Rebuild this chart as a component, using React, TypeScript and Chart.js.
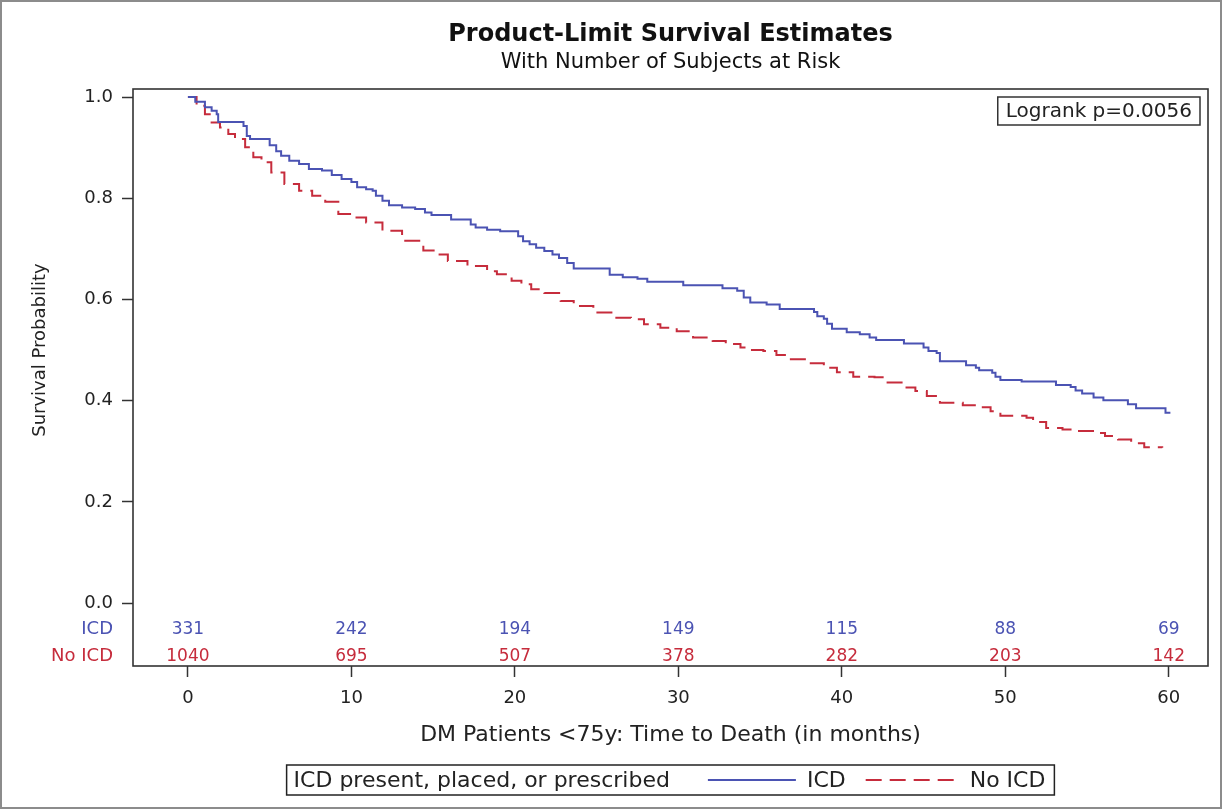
import React, { useEffect, useRef } from 'react';
import { Chart, registerables } from 'chart.js';

Chart.register(...registerables);

const FONT = "'DejaVu Sans', sans-serif";

const chartTitle = 'Product-Limit Survival Estimates';
const chartSubtitle = 'With Number of Subjects at Risk';
const xTitle = 'DM Patients <75y: Time to Death (in months)';
const yTitle = 'Survival Probability';
const logrankText = 'Logrank p=0.0056';
const legendTitle = 'ICD present, placed, or prescribed';
const seriesLabels = ['ICD', 'No ICD'];
const seriesColors = ['#4b53b3', '#c62c3c'];

const xTicks = [0, 10, 20, 30, 40, 50, 60];
const yTicks = [0, 0.2, 0.4, 0.6, 0.8, 1.0];

const icdTime = [0, 0.45, 1.04, 1.45, 1.76, 1.85, 3.4, 3.6, 3.8, 5.0, 5.4, 5.7, 6.2, 6.8, 7.4, 8.2, 8.8, 9.4, 10.0, 10.35, 10.9, 11.3, 11.5, 11.9, 12.3, 13.1, 13.9, 14.5, 14.9, 16.1, 17.3, 17.6, 18.3, 19.1, 20.2, 20.5, 20.9, 21.3, 21.8, 22.3, 22.7, 23.2, 23.6, 25.8, 26.6, 27.5, 28.1, 30.3, 32.7, 33.6, 34.0, 34.4, 35.4, 36.2, 38.3, 38.5, 38.9, 39.1, 39.4, 40.3, 41.1, 41.7, 42.1, 43.8, 45.0, 45.3, 45.8, 46.0, 47.6, 48.2, 48.4, 49.2, 49.4, 49.7, 51.0, 53.1, 54.0, 54.3, 54.7, 55.4, 56.0, 57.5, 58.0, 59.8, 60.1];
const icdSurv = [1.0, 0.991, 0.98, 0.973, 0.966, 0.951, 0.943, 0.923, 0.917, 0.905, 0.893, 0.884, 0.874, 0.868, 0.858, 0.855, 0.846, 0.838, 0.832, 0.822, 0.818, 0.815, 0.805, 0.795, 0.786, 0.782, 0.779, 0.772, 0.767, 0.758, 0.748, 0.742, 0.738, 0.735, 0.725, 0.715, 0.709, 0.702, 0.696, 0.689, 0.682, 0.672, 0.661, 0.649, 0.644, 0.641, 0.635, 0.628, 0.622, 0.617, 0.604, 0.594, 0.59, 0.581, 0.575, 0.567, 0.562, 0.552, 0.542, 0.535, 0.531, 0.525, 0.52, 0.513, 0.505, 0.498, 0.494, 0.478, 0.47, 0.465, 0.46, 0.455, 0.447, 0.441, 0.438, 0.431, 0.427, 0.42, 0.414, 0.406, 0.401, 0.393, 0.385, 0.376, 0.376];

const noIcdTime = [0, 0.53, 1.04, 1.45, 1.96, 2.47, 2.88, 3.5, 4.0, 4.5, 5.1, 5.9, 6.8, 7.6, 8.4, 9.2, 10.0, 10.9, 11.9, 13.1, 14.4, 15.1, 15.9, 17.1, 18.3, 18.9, 19.8, 20.4, 21.0, 21.8, 22.8, 23.6, 24.8, 26.1, 27.1, 27.9, 28.9, 29.9, 30.9, 32.1, 32.9, 33.8, 34.4, 35.2, 36.0, 36.8, 38.1, 38.9, 39.7, 40.7, 42.0, 42.8, 43.8, 44.5, 45.2, 46.0, 47.4, 48.2, 49.1, 49.7, 51.3, 51.7, 52.5, 53.5, 54.1, 55.5, 56.1, 56.9, 57.7, 58.5, 59.6];
const noIcdSurv = [1.0, 0.983, 0.966, 0.95, 0.94, 0.927, 0.917, 0.901, 0.881, 0.871, 0.851, 0.828, 0.815, 0.805, 0.793, 0.769, 0.762, 0.752, 0.736, 0.716, 0.697, 0.689, 0.676, 0.666, 0.656, 0.65, 0.637, 0.63, 0.62, 0.613, 0.597, 0.587, 0.574, 0.564, 0.561, 0.551, 0.544, 0.537, 0.525, 0.518, 0.512, 0.505, 0.5, 0.498, 0.49, 0.482, 0.474, 0.465, 0.456, 0.447, 0.446, 0.436, 0.426, 0.419, 0.409, 0.396, 0.391, 0.387, 0.379, 0.37, 0.366, 0.358, 0.346, 0.343, 0.34, 0.336, 0.33, 0.323, 0.316, 0.308, 0.307];

const riskTimes = [0, 10, 20, 30, 40, 50, 60];
const icdAtRisk = [331, 242, 194, 149, 115, 88, 69];
const noIcdAtRisk = [1040, 695, 507, 378, 282, 203, 142];

const decor = {
  id: 'decor',
  beforeDraw(chart: any) {
    const ctx = chart.ctx;
    ctx.save();
    ctx.fillStyle = '#ffffff';
    ctx.fillRect(0, 0, chart.width, chart.height);
    ctx.restore();
  },
  afterDraw(chart: any) {
    const { ctx, chartArea: ca, scales } = chart;
    const xs = scales.x;
    const ys = scales.y;
    const cx = (ca.left + ca.right) / 2;
    ctx.save();

    // outer border
    ctx.strokeStyle = '#8c8c8c';
    ctx.lineWidth = 2;
    ctx.strokeRect(1, 1, 1220, 807);

    // plot frame
    ctx.strokeStyle = '#333333';
    ctx.lineWidth = 1.6;
    ctx.strokeRect(ca.left, ca.top, ca.right - ca.left, ca.bottom - ca.top);

    // titles
    ctx.fillStyle = '#111111';
    ctx.textAlign = 'center';
    ctx.textBaseline = 'middle';
    ctx.font = `bold 24px ${FONT}`;
    ctx.fillText(chartTitle, cx, 35);
    ctx.font = `21px ${FONT}`;
    ctx.fillText(chartSubtitle, cx, 63);

    // y title
    ctx.save();
    ctx.translate(40, (ys.getPixelForValue(0) + ys.getPixelForValue(1)) / 2);
    ctx.rotate(-Math.PI / 2);
    ctx.font = `18px ${FONT}`;
    ctx.fillStyle = '#222222';
    ctx.fillText(yTitle, 0, 0);
    ctx.restore();

    // logrank box
    ctx.font = `20px ${FONT}`;
    const lw = ctx.measureText(logrankText).width;
    const bRight = ca.right - 8;
    const bLeft = bRight - lw - 16;
    ctx.fillStyle = '#ffffff';
    ctx.fillRect(bLeft, 97, bRight - bLeft, 28);
    ctx.strokeStyle = '#333333';
    ctx.lineWidth = 1.5;
    ctx.strokeRect(bLeft, 97, bRight - bLeft, 28);
    ctx.fillStyle = '#222222';
    ctx.textAlign = 'left';
    ctx.fillText(logrankText, bLeft + 8, 111.5);

    // risk table
    const rowY = [ys.getPixelForValue(-0.053), ys.getPixelForValue(-0.105)];
    const rows = [icdAtRisk, noIcdAtRisk];
    rows.forEach((vals, r) => {
      ctx.fillStyle = seriesColors[r];
      ctx.font = `18px ${FONT}`;
      ctx.textAlign = 'right';
      ctx.fillText(seriesLabels[r], 113, rowY[r]);
      ctx.font = `17px ${FONT}`;
      ctx.textAlign = 'center';
      vals.forEach((v, i) => {
        ctx.fillText(String(v), xs.getPixelForValue(riskTimes[i]), rowY[r]);
      });
    });

    // legend
    ctx.font = `22px ${FONT}`;
    ctx.textAlign = 'left';
    const tW = ctx.measureText(legendTitle).width;
    const w1 = ctx.measureText(seriesLabels[0]).width;
    const w2 = ctx.measureText(seriesLabels[1]).width;
    const lineLen = 88;
    const total = 7 + tW + 38 + lineLen + 11 + w1 + 20 + lineLen + 16 + w2 + 9;
    const lx = cx - total / 2;
    const ly = 765;
    const lh = 30;
    ctx.strokeStyle = '#222222';
    ctx.lineWidth = 1.5;
    ctx.strokeRect(lx, ly, total, lh);
    const my = ly + lh / 2;
    let x = lx + 7;
    ctx.fillStyle = '#222222';
    ctx.fillText(legendTitle, x, my + 1);
    x += tW + 38;
    const dsets = chart.data.datasets;
    const drawSample = (ds: any, x0: number) => {
      ctx.save();
      ctx.strokeStyle = ds.borderColor;
      ctx.lineWidth = ds.borderWidth;
      ctx.setLineDash(ds.borderDash || []);
      ctx.beginPath();
      ctx.moveTo(x0, my);
      ctx.lineTo(x0 + lineLen, my);
      ctx.stroke();
      ctx.restore();
    };
    drawSample(dsets[0], x);
    x += lineLen + 11;
    ctx.fillStyle = '#222222';
    ctx.fillText(seriesLabels[0], x, my + 1);
    x += w1 + 20;
    drawSample(dsets[1], x);
    x += lineLen + 16;
    ctx.fillStyle = '#222222';
    ctx.fillText(seriesLabels[1], x, my + 1);

    ctx.restore();
  },
};

export default function App() {
  const ref = useRef<HTMLCanvasElement | null>(null);

  useEffect(() => {
    if (!ref.current) return;
    const chart = new Chart(ref.current, {
      type: 'line',
      data: {
        datasets: [
          {
            label: seriesLabels[0],
            data: icdTime.map((t, i) => ({ x: t, y: icdSurv[i] })),
            borderColor: seriesColors[0],
            borderWidth: 2,
            pointRadius: 0,
            stepped: 'before',
            fill: false,
          },
          {
            label: seriesLabels[1],
            data: noIcdTime.map((t, i) => ({ x: t, y: noIcdSurv[i] })),
            borderColor: seriesColors[1],
            borderWidth: 2,
            borderDash: [16, 8],
            pointRadius: 0,
            stepped: 'before',
            fill: false,
          },
        ],
      },
      options: {
        responsive: false,
        animation: false,
        devicePixelRatio: 1,
        layout: { padding: { top: 89, right: 20, bottom: 0, left: 0 } },
        plugins: {
          legend: { display: false },
          tooltip: { enabled: false },
          title: { display: false },
        },
        scales: {
          x: {
            type: 'linear',
            min: -3.36,
            max: 62.4,
            afterBuildTicks: (s: any) => {
              s.ticks = xTicks.map((v) => ({ value: v }));
            },
            afterFit: (s: any) => {
              s.height = 146;
            },
            grid: {
              drawOnChartArea: false,
              drawTicks: true,
              tickLength: 11,
              tickColor: '#333333',
              tickWidth: 1.5,
            },
            border: { display: false },
            ticks: {
              padding: 11,
              color: '#222222',
              font: { family: FONT, size: 18 },
              maxRotation: 0,
              autoSkip: false,
            },
            title: {
              display: true,
              text: xTitle,
              color: '#222222',
              font: { family: FONT, size: 22 },
              padding: { top: 0, bottom: 64 },
            },
          },
          y: {
            type: 'linear',
            min: -0.1245,
            max: 1.016,
            afterBuildTicks: (s: any) => {
              s.ticks = yTicks.map((v) => ({ value: v }));
            },
            afterFit: (s: any) => {
              s.width = 133;
            },
            grid: {
              drawOnChartArea: false,
              drawTicks: true,
              tickLength: 11,
              tickColor: '#333333',
              tickWidth: 1.5,
            },
            border: { display: false },
            ticks: {
              padding: 9,
              color: '#222222',
              font: { family: FONT, size: 18 },
              callback: (v: any) => Number(v).toFixed(1),
            },
          },
        },
      },
      plugins: [decor],
    });
    return () => chart.destroy();
  }, []);

  return (
    <div style={{ position: 'absolute', left: 0, top: 0, width: 1228, height: 812, background: '#fff' }}>
      <canvas ref={ref} width={1228} height={812} style={{ display: 'block' }} />
    </div>
  );
}
